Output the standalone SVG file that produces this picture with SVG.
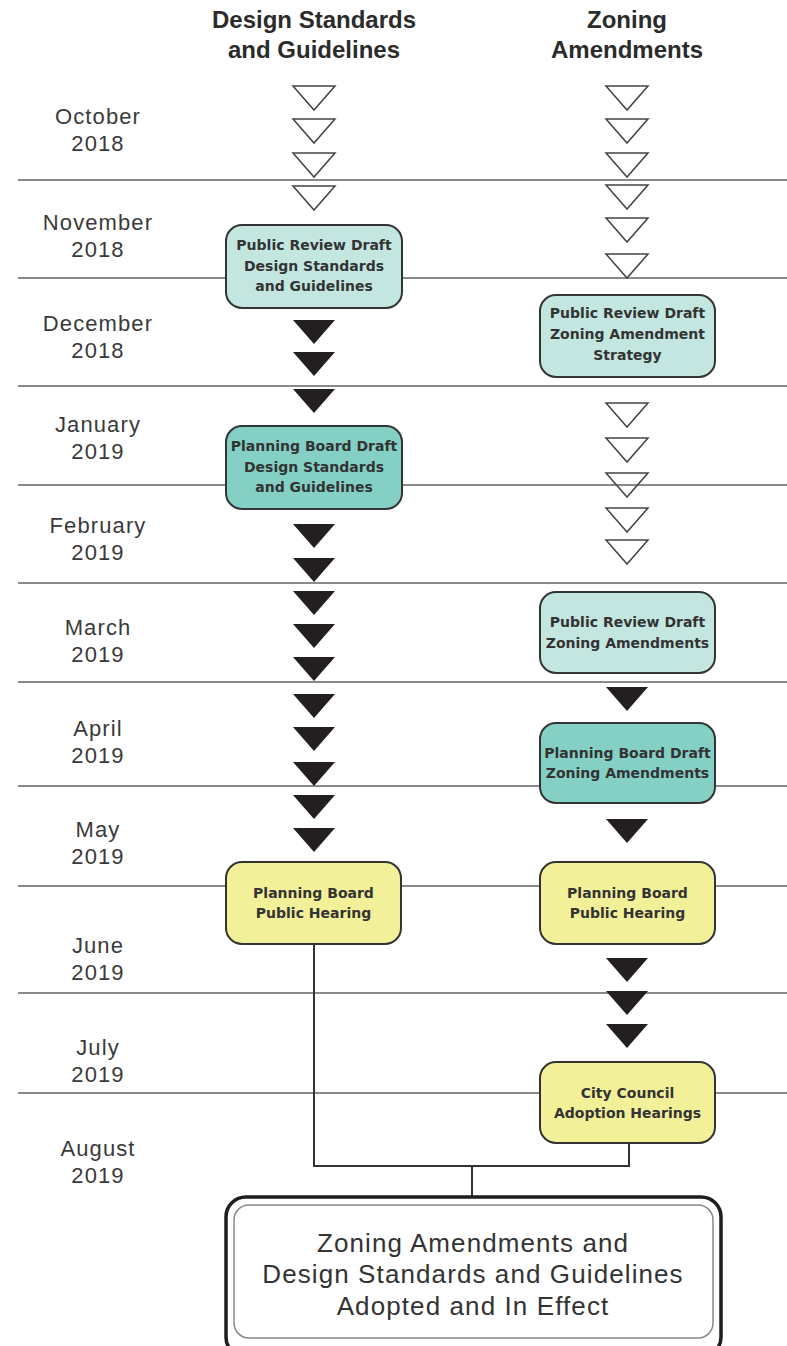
<svg xmlns="http://www.w3.org/2000/svg" width="787" height="1346" viewBox="0 0 787 1346">
<defs>
<style>
.hdr{font-family:"Liberation Sans",Arial,sans-serif;font-weight:bold;font-size:24px;fill:#2b2b2b;text-anchor:middle}
.mon{font-family:"Liberation Sans",Arial,sans-serif;font-size:22px;fill:#3a3a3a;text-anchor:middle;letter-spacing:1.1px}
.lbl{font-family:"DejaVu Sans",sans-serif;font-weight:bold;font-size:14px;fill:#333;text-anchor:middle}
.fin{font-family:"Liberation Sans",Arial,sans-serif;font-size:26px;fill:#333;text-anchor:middle;letter-spacing:1.1px}
.grid{stroke:#8a8a8a;stroke-width:1.8}
.box{stroke:#333;stroke-width:2}
.lt{fill:#c3e7e0}
.dk{fill:#84d0c4}
.yl{fill:#f3f09a}
.open{fill:none;stroke:#444;stroke-width:1.5;stroke-linejoin:miter}
.solid{fill:#231f20}
.conn{fill:none;stroke:#333;stroke-width:2}
</style>
<path id="tri" d="M-21,0 L21,0 L0,24 Z"/>
</defs>

<g id="headers">
<text class="hdr" x="314" y="28">Design Standards</text>
<text class="hdr" x="314" y="58">and Guidelines</text>
<text class="hdr" x="627" y="28">Zoning</text>
<text class="hdr" x="627" y="58">Amendments</text>
</g>

<g id="grid">
<line class="grid" x1="18" y1="180" x2="787" y2="180"/>
<line class="grid" x1="18" y1="278" x2="787" y2="278"/>
<line class="grid" x1="18" y1="386" x2="787" y2="386"/>
<line class="grid" x1="18" y1="485" x2="787" y2="485"/>
<line class="grid" x1="18" y1="583" x2="787" y2="583"/>
<line class="grid" x1="18" y1="682" x2="787" y2="682"/>
<line class="grid" x1="18" y1="786" x2="787" y2="786"/>
<line class="grid" x1="18" y1="886" x2="787" y2="886"/>
<line class="grid" x1="18" y1="993" x2="787" y2="993"/>
<line class="grid" x1="18" y1="1093" x2="787" y2="1093"/>
</g>

<g id="months">
<text class="mon" x="98" y="124">October</text><text class="mon" x="98" y="151">2018</text>
<text class="mon" x="98" y="230">November</text><text class="mon" x="98" y="257">2018</text>
<text class="mon" x="98" y="331">December</text><text class="mon" x="98" y="358">2018</text>
<text class="mon" x="98" y="432">January</text><text class="mon" x="98" y="459">2019</text>
<text class="mon" x="98" y="533">February</text><text class="mon" x="98" y="560">2019</text>
<text class="mon" x="98" y="635">March</text><text class="mon" x="98" y="662">2019</text>
<text class="mon" x="98" y="736">April</text><text class="mon" x="98" y="763">2019</text>
<text class="mon" x="98" y="837">May</text><text class="mon" x="98" y="864">2019</text>
<text class="mon" x="98" y="953">June</text><text class="mon" x="98" y="980">2019</text>
<text class="mon" x="98" y="1055">July</text><text class="mon" x="98" y="1082">2019</text>
<text class="mon" x="98" y="1156">August</text><text class="mon" x="98" y="1183">2019</text>
</g>

<g id="connectors">
<use href="#tri" class="open" x="314" y="86"/>
<use href="#tri" class="open" x="314" y="119"/>
<use href="#tri" class="open" x="314" y="153"/>
<use href="#tri" class="open" x="314" y="186"/>
<use href="#tri" class="open" x="627" y="86"/>
<use href="#tri" class="open" x="627" y="119"/>
<use href="#tri" class="open" x="627" y="153"/>
<use href="#tri" class="open" x="627" y="185"/>
<use href="#tri" class="open" x="627" y="218"/>
<use href="#tri" class="open" x="627" y="254"/>
<use href="#tri" class="open" x="627" y="403"/>
<use href="#tri" class="open" x="627" y="438"/>
<use href="#tri" class="open" x="627" y="473"/>
<use href="#tri" class="open" x="627" y="508"/>
<use href="#tri" class="open" x="627" y="540"/>
<use href="#tri" class="solid" x="314" y="320"/>
<use href="#tri" class="solid" x="314" y="352"/>
<use href="#tri" class="solid" x="314" y="389"/>
<use href="#tri" class="solid" x="314" y="524"/>
<use href="#tri" class="solid" x="314" y="558"/>
<use href="#tri" class="solid" x="314" y="591"/>
<use href="#tri" class="solid" x="314" y="624"/>
<use href="#tri" class="solid" x="314" y="657"/>
<use href="#tri" class="solid" x="314" y="694"/>
<use href="#tri" class="solid" x="314" y="727"/>
<use href="#tri" class="solid" x="314" y="762"/>
<use href="#tri" class="solid" x="314" y="795"/>
<use href="#tri" class="solid" x="314" y="828"/>
<use href="#tri" class="solid" x="627" y="687"/>
<use href="#tri" class="solid" x="627" y="819"/>
<use href="#tri" class="solid" x="627" y="958"/>
<use href="#tri" class="solid" x="627" y="991"/>
<use href="#tri" class="solid" x="627" y="1024"/>
<path class="conn" d="M314,944 L314,1166 L629,1166 L629,1143"/>
<path class="conn" d="M472,1166 L472,1197"/>
</g>

<g id="n_prd_dsg">
<rect class="box lt" x="226" y="225" width="176" height="83" rx="16"/>
<text class="lbl" x="314" y="250">Public Review Draft</text>
<text class="lbl" x="314" y="271">Design Standards</text>
<text class="lbl" x="314" y="291">and Guidelines</text>
</g>

<g id="n_prd_zas">
<rect class="box lt" x="540" y="295" width="175" height="82" rx="16"/>
<text class="lbl" x="627.5" y="318">Public Review Draft</text>
<text class="lbl" x="627.5" y="339">Zoning Amendment</text>
<text class="lbl" x="627.5" y="360">Strategy</text>
</g>

<g id="n_pbd_dsg">
<rect class="box dk" x="226" y="426" width="176" height="83" rx="16"/>
<text class="lbl" x="314" y="451">Planning Board Draft</text>
<text class="lbl" x="314" y="472">Design Standards</text>
<text class="lbl" x="314" y="492">and Guidelines</text>
</g>

<g id="n_prd_za">
<rect class="box lt" x="540" y="592" width="175" height="81" rx="16"/>
<text class="lbl" x="627.5" y="627">Public Review Draft</text>
<text class="lbl" x="627.5" y="648">Zoning Amendments</text>
</g>

<g id="n_pbd_za">
<rect class="box dk" x="540" y="723" width="175" height="80" rx="16"/>
<text class="lbl" x="627.5" y="758">Planning Board Draft</text>
<text class="lbl" x="627.5" y="778">Zoning Amendments</text>
</g>

<g id="n_ph_dsg">
<rect class="box yl" x="226" y="862" width="175" height="82" rx="16"/>
<text class="lbl" x="313.5" y="898">Planning Board</text>
<text class="lbl" x="313.5" y="918">Public Hearing</text>
</g>

<g id="n_ph_za">
<rect class="box yl" x="540" y="862" width="175" height="82" rx="16"/>
<text class="lbl" x="627.5" y="898">Planning Board</text>
<text class="lbl" x="627.5" y="918">Public Hearing</text>
</g>

<g id="n_cc">
<rect class="box yl" x="540" y="1062" width="175" height="81" rx="16"/>
<text class="lbl" x="627.5" y="1098">City Council</text>
<text class="lbl" x="627.5" y="1118">Adoption Hearings</text>
</g>

<g id="n_final">
<rect x="226" y="1197" width="495" height="160" rx="20" fill="#fff" stroke="#1e1e1e" stroke-width="3.5"/>
<rect x="234" y="1205" width="479" height="133" rx="15" fill="none" stroke="#888" stroke-width="1.5"/>
<text class="fin" x="473" y="1252">Zoning Amendments and</text>
<text class="fin" x="473" y="1283">Design Standards and Guidelines</text>
<text class="fin" x="473" y="1315">Adopted and In Effect</text>
</g>
</svg>
